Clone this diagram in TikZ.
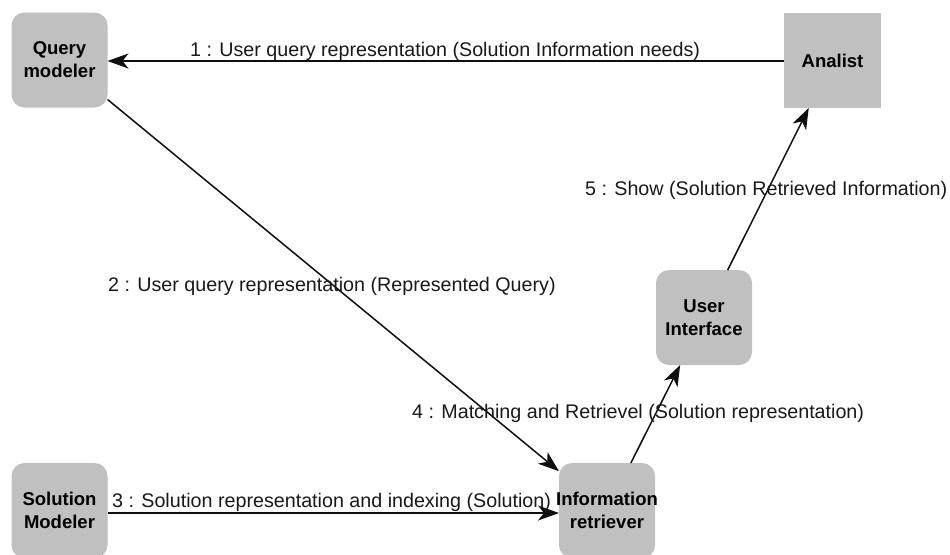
\documentclass[tikz,border=0pt]{standalone}
\usepackage{fontspec}
\setmainfont{Liberation Sans}
\usetikzlibrary{arrows.meta}
\definecolor{boxgray}{RGB}{192,192,192}
\definecolor{linecol}{RGB}{15,15,15}
\begin{document}
\begin{tikzpicture}[x=1pt,y=-1pt,
  box/.style={fill=boxgray, draw=none, minimum width=96pt, minimum height=95pt, inner sep=0pt, outer sep=0pt, rounded corners=13pt},
  sqbox/.style={fill=boxgray, draw=none, minimum width=97pt, minimum height=95pt, inner sep=0pt, outer sep=0pt},
  ntext/.style={font=\fontsize{18.5}{23}\selectfont\bfseries, align=center, inner sep=0pt, text=black},
  msg/.style={font=\fontsize{19.7}{23}\selectfont, anchor=base west, inner sep=0pt, text=black!90},
  conn/.style={draw=linecol, line width=1.5pt, -{Stealth[length=21pt,width=15pt,inset=6pt]}}
]
\useasboundingbox (0,0) rectangle (950,554);
\fill[white] (0,0) rectangle (950,554);

\node[box, label={[ntext]center:Query\\modeler}] (qm) at (59.5,60) {};
\node[sqbox, label={[ntext]center:Analist}] (an) at (832.5,60.5) {};
\node[box, label={[ntext]center:User\\Interface}] (ui) at (704,317.5) {};
\node[box, label={[ntext]center:Solution\\Modeler}] (sm) at (59.5,510.5) {};
\node[box, label={[ntext]center:Information\\retriever}] (ir) at (607,510.5) {};

\coordinate (a1) at (784,61);
\coordinate (q1) at (107.5,61);
\draw[conn] (a1) -- (q1);
\draw[conn] (qm) -- (ir);
\coordinate (s3) at (107.5,513);
\coordinate (i3) at (559,513);
\draw[conn] (s3) -- (i3);
\draw[conn] (ir) -- (ui);
\draw[conn] (ui) -- (an);

\node[msg] (l1) at (190,56) {1 : User query representation (Solution Information needs)};
\node[msg] (l2) at (108,291) {2 : User query representation (Represented Query)};
\node[msg] (l3) at (112,507) {3 : Solution representation and indexing (Solution)};
\node[msg] (l4) at (412,418) {4 : Matching and Retrievel (Solution representation)};
\node[msg] (l5) at (585,195) {5 : Show (Solution Retrieved Information)};
\end{tikzpicture}
\end{document}
